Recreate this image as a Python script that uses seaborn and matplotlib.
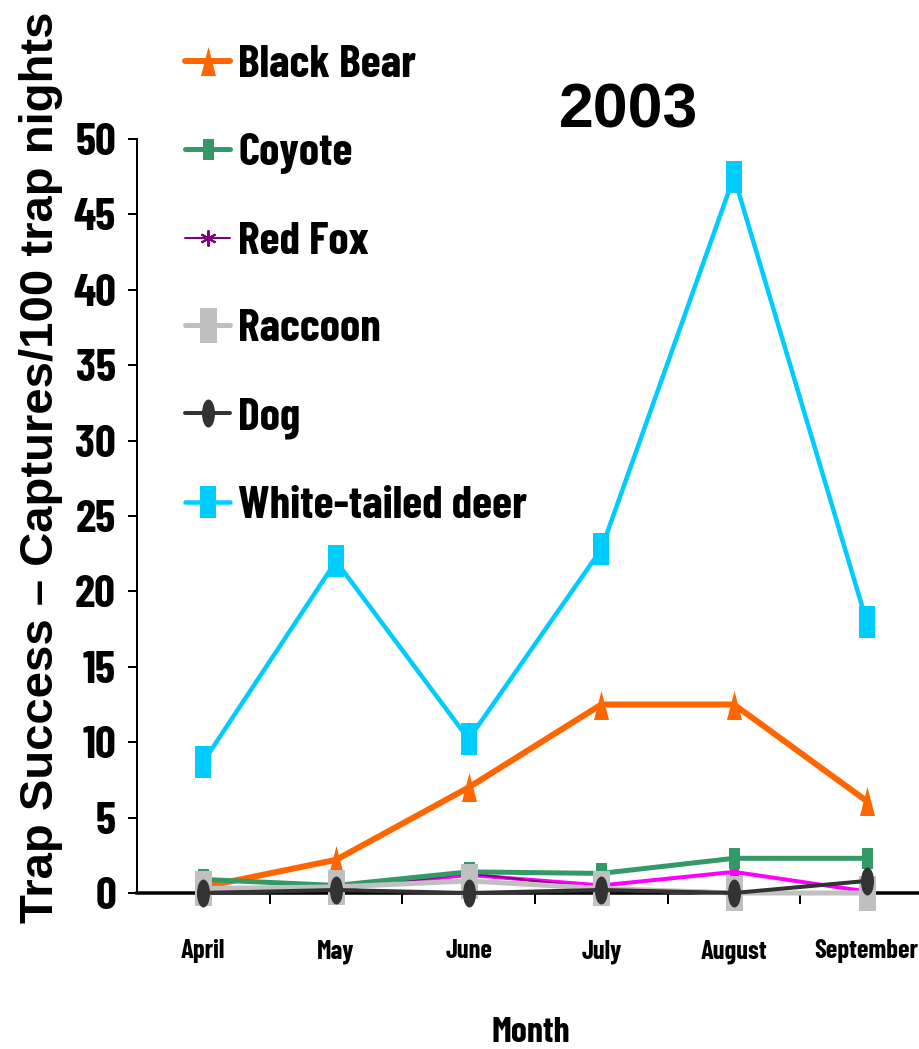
import numpy as np
import matplotlib
matplotlib.use("Agg")
import matplotlib.pyplot as plt
from matplotlib.path import Path
from matplotlib.markers import MarkerStyle
from matplotlib.ticker import FixedLocator
import seaborn as sns

# Trap success (captures per 100 trap nights), 2003 season
months = ["April", "May", "June", "July", "August", "September"]
black_bear = [0.4, 2.2, 7.0, 12.5, 12.5, 6.1]
coyote = [0.9, 0.5, 1.4, 1.3, 2.3, 2.3]
red_fox = [0.1, 0.2, 1.3, 0.3, 0.1, 0.0]
raccoon = [0.3, 0.4, 0.8, 0.3, 0.0, 0.0]
dog = [0.0, 0.2, 0.0, 0.2, 0.0, 0.8]
white_tailed_deer = [8.7, 22.0, 10.2, 22.8, 47.5, 18.0]
other_species = [0.1, 0.3, 1.2, 0.5, 1.4, 0.1]

y_ticks = [0, 5, 10, 15, 20, 25, 30, 35, 40, 45, 50]

sns.set_style("ticks")
NARROW = ["Barlow Condensed", "DejaVu Sans"]
WIDE = ["Liberation Sans", "DejaVu Sans"]
plt.rcParams["font.family"] = NARROW
plt.rcParams["font.weight"] = "bold"
for key in ["text.color", "axes.labelcolor", "xtick.color", "ytick.color",
            "axes.edgecolor"]:
    plt.rcParams[key] = "black"


def rect_marker(w, h):
    hw, hh = w / 2.0, h / 2.0
    verts = [(-hw, -hh), (hw, -hh), (hw, hh), (-hw, hh), (-hw, -hh)]
    codes = [Path.MOVETO, Path.LINETO, Path.LINETO, Path.LINETO, Path.CLOSEPOLY]
    return MarkerStyle(Path(verts, codes))


def spike_marker(w, h):
    hw, hh = w / 2.0, h / 2.0
    verts = [(0, hh), (hw, -hh), (-hw, -hh), (0, hh)]
    codes = [Path.MOVETO, Path.LINETO, Path.LINETO, Path.CLOSEPOLY]
    return MarkerStyle(Path(verts, codes))


def oval_marker(w, h):
    circ = Path.unit_circle()
    v = circ.vertices.copy()
    v[:, 0] *= w / 2.0
    v[:, 1] *= h / 2.0
    return MarkerStyle(Path(v, circ.codes))


PX = 0.72  # points per pixel at dpi 100

fig = plt.figure(figsize=(9.19, 10.49), dpi=100)
W, H = 919.0, 1049.0
ax_left, ax_right, ax_top, ax_bottom = 137, 933, 139, 893
ax = fig.add_axes([ax_left / W, 1 - ax_bottom / H,
                   (ax_right - ax_left) / W, (ax_bottom - ax_top) / H])

series = [
    ("_other", other_species, "#FF00FF", MarkerStyle("s"), 9, 4, 3.1),
    ("Red Fox", red_fox, "#800080", MarkerStyle((6, 2, 0)), 16, 2, 3.2),
    ("Black Bear", black_bear, "#FF6600", spike_marker(15, 29), 29, 6, 3.3),
    ("Coyote", coyote, "#339966", rect_marker(11, 21), 21, 5, 3.4),
    ("Raccoon", raccoon, "#C0C0C0", rect_marker(17, 35), 35, 5, 3.5),
    ("Dog", dog, "#333333", oval_marker(13, 28), 28, 4, 3.6),
    ("White-tailed deer", white_tailed_deer, "#00CCFF", rect_marker(16, 32), 32, 4.5, 3.7),
]

for label, vals, color, mk, msize, lw, z in series:
    is_star = label == "Red Fox"
    sns.lineplot(x=months, y=vals, ax=ax, color=color, marker=mk,
                 markersize=msize * PX, linewidth=lw * PX, sort=False,
                 markeredgewidth=(1.5 if is_star else 0),
                 markeredgecolor=color, markerfacecolor=color,
                 label=label, zorder=z, legend=False, clip_on=False)

ax.set_xlim(-0.5, 5.5)
ax.set_ylim(0, 50)
ax.set_yticks(y_ticks)
ax.set_yticklabels([str(t) for t in y_ticks])
ax.set_xticks(range(len(months)))
ax.set_xticklabels(months)
ax.xaxis.set_minor_locator(FixedLocator([i + 0.5 for i in range(len(months) - 1)]))

for sp in ["top", "right"]:
    ax.spines[sp].set_visible(False)
ax.spines["left"].set_linewidth(2 * PX)
ax.spines["bottom"].set_linewidth(3.5 * PX)
ax.spines["bottom"].set_zorder(2.5)
ax.spines["left"].set_zorder(2.5)

ax.tick_params(axis="y", which="major", length=9 * PX, width=2 * PX,
               pad=12 * PX, labelsize=33, direction="out")
ax.tick_params(axis="x", which="major", length=0, pad=46 * PX, labelsize=19)
ax.tick_params(axis="x", which="minor", length=11 * PX, width=2 * PX,
               direction="out")
for t in ax.get_yticklabels() + ax.get_xticklabels():
    t.set_fontweight("bold")
    t.set_family(NARROW)

ax.set_ylabel("Trap Success \u2013 Captures/100 trap nights", fontsize=34,
              fontweight="bold", family=WIDE)
ax.yaxis.set_label_coords((63 - ax_left) / (ax_right - ax_left),
                          (ax_bottom - 467) / (ax_bottom - ax_top))
ax.set_xlabel("Month", fontsize=26, fontweight="bold", family=NARROW)
ax.xaxis.set_label_coords((531 - ax_left) / (ax_right - ax_left),
                          -(1017 - ax_bottom) / (ax_bottom - ax_top))

ax.set_title("2003", fontsize=45, fontweight="bold", family=WIDE,
             x=(628 - ax_left) / (ax_right - ax_left),
             y=(ax_bottom - 128) / (ax_bottom - ax_top), pad=0)

handles, labels = ax.get_legend_handles_labels()
order = ["Black Bear", "Coyote", "Red Fox", "Raccoon", "Dog", "White-tailed deer"]
hmap = dict(zip(labels, handles))
leg_font = 33
fig.legend([hmap[k] for k in order], order, loc="upper left",
           bbox_to_anchor=(185 / W, 1 - 45 / H), frameon=False,
           borderpad=0, borderaxespad=0, handlelength=45 / (leg_font / PX),
           handletextpad=8 / (leg_font / PX), labelspacing=1.04,
           prop={"family": NARROW, "weight": "bold", "size": leg_font})

fig.savefig("out.png", dpi=100)
